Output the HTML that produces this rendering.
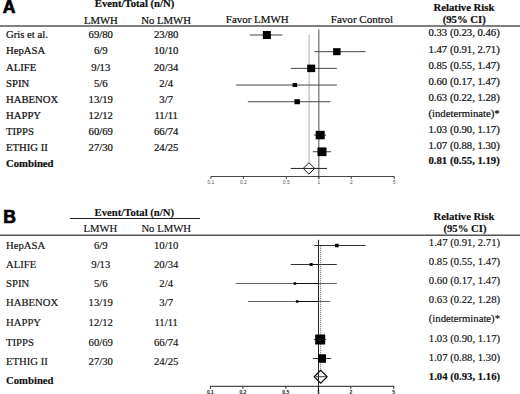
<!DOCTYPE html>
<html><head><meta charset="utf-8"><style>
html,body{margin:0;padding:0;background:#fff;}
body{width:520px;height:394px;overflow:hidden;}
svg{display:block;}
</style></head><body>
<svg width="520" height="394" viewBox="0 0 520 394">
<rect width="520" height="394" fill="#fff"/>
<text x="2.70" y="12.80" font-family="Liberation Sans" font-size="17.6" font-weight="bold" text-anchor="start" fill="#000" stroke="#000" stroke-width="0.7" >A</text>
<text x="94.80" y="7.30" font-family="Liberation Serif" font-size="10.7" font-weight="bold" text-anchor="start" fill="#111" stroke="#111" stroke-width="0.22" >Event/Total (n/N)</text>
<text x="100.80" y="23.50" font-family="Liberation Serif" font-size="10.7" font-weight="normal" text-anchor="middle" fill="#111" stroke="#111" stroke-width="0.22" >LMWH</text>
<text x="166.10" y="23.50" font-family="Liberation Serif" font-size="10.7" font-weight="normal" text-anchor="middle" fill="#111" stroke="#111" stroke-width="0.22" >No LMWH</text>
<text x="225.80" y="23.10" font-family="Liberation Serif" font-size="10.95" font-weight="normal" text-anchor="start" fill="#111" stroke="#111" stroke-width="0.22" >Favor LMWH</text>
<text x="330.80" y="23.10" font-family="Liberation Serif" font-size="11.05" font-weight="normal" text-anchor="start" fill="#111" stroke="#111" stroke-width="0.22" >Favor Control</text>
<text x="464.00" y="11.00" font-family="Liberation Serif" font-size="10.7" font-weight="bold" text-anchor="middle" fill="#111" stroke="#111" stroke-width="0.22" >Relative Risk</text>
<text x="464.20" y="22.80" font-family="Liberation Serif" font-size="10.7" font-weight="bold" text-anchor="middle" fill="#111" stroke="#111" stroke-width="0.22" >(95% CI)</text>
<line x1="0.00" y1="26.00" x2="520.00" y2="26.00" stroke="#555" stroke-width="1.5" />
<text x="6.00" y="38.00" font-family="Liberation Serif" font-size="10.7" font-weight="normal" text-anchor="start" fill="#111" stroke="#111" stroke-width="0.22" >Gris et al.</text>
<text x="100.80" y="38.00" font-family="Liberation Serif" font-size="10.7" font-weight="normal" text-anchor="middle" fill="#111" stroke="#111" stroke-width="0.22" >69/80</text>
<text x="166.20" y="38.00" font-family="Liberation Serif" font-size="10.7" font-weight="normal" text-anchor="middle" fill="#111" stroke="#111" stroke-width="0.22" >23/80</text>
<text x="428.50" y="36.30" font-family="Liberation Serif" font-size="10.7" font-weight="normal" text-anchor="start" fill="#111" stroke="#111" stroke-width="0.22" >0.33 (0.23, 0.46)</text>
<text x="6.00" y="54.30" font-family="Liberation Serif" font-size="10.7" font-weight="normal" text-anchor="start" fill="#111" stroke="#111" stroke-width="0.22" >HepASA</text>
<text x="100.80" y="54.30" font-family="Liberation Serif" font-size="10.7" font-weight="normal" text-anchor="middle" fill="#111" stroke="#111" stroke-width="0.22" >6/9</text>
<text x="166.20" y="54.30" font-family="Liberation Serif" font-size="10.7" font-weight="normal" text-anchor="middle" fill="#111" stroke="#111" stroke-width="0.22" >10/10</text>
<text x="428.50" y="52.70" font-family="Liberation Serif" font-size="10.7" font-weight="normal" text-anchor="start" fill="#111" stroke="#111" stroke-width="0.22" >1.47 (0.91, 2.71)</text>
<text x="6.00" y="70.60" font-family="Liberation Serif" font-size="10.7" font-weight="normal" text-anchor="start" fill="#111" stroke="#111" stroke-width="0.22" >ALIFE</text>
<text x="100.80" y="70.60" font-family="Liberation Serif" font-size="10.7" font-weight="normal" text-anchor="middle" fill="#111" stroke="#111" stroke-width="0.22" >9/13</text>
<text x="166.20" y="70.60" font-family="Liberation Serif" font-size="10.7" font-weight="normal" text-anchor="middle" fill="#111" stroke="#111" stroke-width="0.22" >20/34</text>
<text x="428.50" y="68.80" font-family="Liberation Serif" font-size="10.7" font-weight="normal" text-anchor="start" fill="#111" stroke="#111" stroke-width="0.22" >0.85 (0.55, 1.47)</text>
<text x="6.00" y="86.70" font-family="Liberation Serif" font-size="10.7" font-weight="normal" text-anchor="start" fill="#111" stroke="#111" stroke-width="0.22" >SPIN</text>
<text x="100.80" y="86.70" font-family="Liberation Serif" font-size="10.7" font-weight="normal" text-anchor="middle" fill="#111" stroke="#111" stroke-width="0.22" >5/6</text>
<text x="166.20" y="86.70" font-family="Liberation Serif" font-size="10.7" font-weight="normal" text-anchor="middle" fill="#111" stroke="#111" stroke-width="0.22" >2/4</text>
<text x="428.50" y="84.60" font-family="Liberation Serif" font-size="10.7" font-weight="normal" text-anchor="start" fill="#111" stroke="#111" stroke-width="0.22" >0.60 (0.17, 1.47)</text>
<text x="6.00" y="102.50" font-family="Liberation Serif" font-size="10.7" font-weight="normal" text-anchor="start" fill="#111" stroke="#111" stroke-width="0.22" >HABENOX</text>
<text x="100.80" y="102.50" font-family="Liberation Serif" font-size="10.7" font-weight="normal" text-anchor="middle" fill="#111" stroke="#111" stroke-width="0.22" >13/19</text>
<text x="166.20" y="102.50" font-family="Liberation Serif" font-size="10.7" font-weight="normal" text-anchor="middle" fill="#111" stroke="#111" stroke-width="0.22" >3/7</text>
<text x="428.50" y="101.20" font-family="Liberation Serif" font-size="10.7" font-weight="normal" text-anchor="start" fill="#111" stroke="#111" stroke-width="0.22" >0.63 (0.22, 1.28)</text>
<text x="6.00" y="118.80" font-family="Liberation Serif" font-size="10.7" font-weight="normal" text-anchor="start" fill="#111" stroke="#111" stroke-width="0.22" >HAPPY</text>
<text x="100.80" y="118.80" font-family="Liberation Serif" font-size="10.7" font-weight="normal" text-anchor="middle" fill="#111" stroke="#111" stroke-width="0.22" >12/12</text>
<text x="166.20" y="118.80" font-family="Liberation Serif" font-size="10.7" font-weight="normal" text-anchor="middle" fill="#111" stroke="#111" stroke-width="0.22" >11/11</text>
<text x="428.50" y="117.00" font-family="Liberation Serif" font-size="10.7" font-weight="normal" text-anchor="start" fill="#111" stroke="#111" stroke-width="0.22" >(indeterminate)*</text>
<text x="6.00" y="135.00" font-family="Liberation Serif" font-size="10.7" font-weight="normal" text-anchor="start" fill="#111" stroke="#111" stroke-width="0.22" >TIPPS</text>
<text x="100.80" y="135.00" font-family="Liberation Serif" font-size="10.7" font-weight="normal" text-anchor="middle" fill="#111" stroke="#111" stroke-width="0.22" >60/69</text>
<text x="166.20" y="135.00" font-family="Liberation Serif" font-size="10.7" font-weight="normal" text-anchor="middle" fill="#111" stroke="#111" stroke-width="0.22" >66/74</text>
<text x="428.50" y="132.70" font-family="Liberation Serif" font-size="10.7" font-weight="normal" text-anchor="start" fill="#111" stroke="#111" stroke-width="0.22" >1.03 (0.90, 1.17)</text>
<text x="6.00" y="151.40" font-family="Liberation Serif" font-size="10.7" font-weight="normal" text-anchor="start" fill="#111" stroke="#111" stroke-width="0.22" >ETHIG II</text>
<text x="100.80" y="151.40" font-family="Liberation Serif" font-size="10.7" font-weight="normal" text-anchor="middle" fill="#111" stroke="#111" stroke-width="0.22" >27/30</text>
<text x="166.20" y="151.40" font-family="Liberation Serif" font-size="10.7" font-weight="normal" text-anchor="middle" fill="#111" stroke="#111" stroke-width="0.22" >24/25</text>
<text x="428.50" y="148.60" font-family="Liberation Serif" font-size="10.7" font-weight="normal" text-anchor="start" fill="#111" stroke="#111" stroke-width="0.22" >1.07 (0.88, 1.30)</text>
<text x="6.00" y="167.10" font-family="Liberation Serif" font-size="10.7" font-weight="bold" text-anchor="start" fill="#111" stroke="#111" stroke-width="0.22" >Combined</text>
<text x="428.50" y="164.40" font-family="Liberation Serif" font-size="10.7" font-weight="bold" text-anchor="start" fill="#111" stroke="#111" stroke-width="0.22" >0.81 (0.55, 1.19)</text>
<line x1="309.13" y1="35.00" x2="309.13" y2="162.50" stroke="#bbb" stroke-width="1.2" />
<line x1="318.80" y1="29.60" x2="318.80" y2="179.00" stroke="#777" stroke-width="1.3" />
<line x1="249.93" y1="35.00" x2="282.41" y2="35.00" stroke="#444" stroke-width="1" />
<rect x="262.85" y="31.00" width="8.00" height="8.00" fill="#000"/>
<line x1="314.38" y1="51.68" x2="365.52" y2="51.68" stroke="#444" stroke-width="1" />
<rect x="333.10" y="48.18" width="7.50" height="7.00" fill="#000"/>
<line x1="290.79" y1="68.36" x2="336.85" y2="68.36" stroke="#444" stroke-width="1" />
<rect x="307.18" y="64.61" width="8.00" height="7.50" fill="#000"/>
<line x1="235.77" y1="85.04" x2="336.85" y2="85.04" stroke="#444" stroke-width="1" />
<rect x="292.61" y="83.04" width="4.50" height="4.00" fill="#000"/>
<line x1="247.85" y1="101.72" x2="330.37" y2="101.72" stroke="#444" stroke-width="1" />
<rect x="294.40" y="99.22" width="5.50" height="5.00" fill="#000"/>
<line x1="313.86" y1="135.08" x2="326.16" y2="135.08" stroke="#444" stroke-width="1" />
<rect x="315.69" y="130.83" width="9.00" height="8.50" fill="#000"/>
<line x1="312.81" y1="151.76" x2="331.09" y2="151.76" stroke="#444" stroke-width="1" />
<rect x="317.47" y="147.41" width="9.00" height="8.70" fill="#000"/>
<path d="M303.23 168.44 L308.93 162.74 L314.63 168.44 L308.93 174.14 Z" fill="#fff" stroke="#111" stroke-width="1"/>
<line x1="290.79" y1="168.44" x2="326.95" y2="168.44" stroke="#222" stroke-width="1" />
<line x1="210.90" y1="176.50" x2="394.22" y2="176.50" stroke="#444" stroke-width="1" />
<line x1="210.90" y1="176.50" x2="210.90" y2="179.00" stroke="#444" stroke-width="1" />
<text x="210.90" y="183.80" font-family="Liberation Sans" font-size="5" font-weight="normal" text-anchor="middle" fill="#555"  >0.1</text>
<line x1="243.38" y1="176.50" x2="243.38" y2="179.00" stroke="#444" stroke-width="1" />
<text x="243.38" y="183.80" font-family="Liberation Sans" font-size="5" font-weight="normal" text-anchor="middle" fill="#555"  >0.2</text>
<line x1="286.32" y1="176.50" x2="286.32" y2="179.00" stroke="#444" stroke-width="1" />
<text x="286.32" y="183.80" font-family="Liberation Sans" font-size="5" font-weight="normal" text-anchor="middle" fill="#555"  >0.5</text>
<line x1="318.80" y1="176.50" x2="318.80" y2="179.00" stroke="#444" stroke-width="1" />
<text x="318.80" y="183.80" font-family="Liberation Sans" font-size="5" font-weight="normal" text-anchor="middle" fill="#555"  >1</text>
<line x1="351.28" y1="176.50" x2="351.28" y2="179.00" stroke="#444" stroke-width="1" />
<text x="351.28" y="183.80" font-family="Liberation Sans" font-size="5" font-weight="normal" text-anchor="middle" fill="#555"  >2</text>
<line x1="394.22" y1="176.50" x2="394.22" y2="179.00" stroke="#444" stroke-width="1" />
<text x="394.22" y="183.80" font-family="Liberation Sans" font-size="5" font-weight="normal" text-anchor="middle" fill="#555"  >5</text>
<text x="3.20" y="222.50" font-family="Liberation Sans" font-size="17.6" font-weight="bold" text-anchor="start" fill="#000" stroke="#000" stroke-width="0.7" >B</text>
<text x="94.60" y="215.60" font-family="Liberation Serif" font-size="10.7" font-weight="bold" text-anchor="start" fill="#111" stroke="#111" stroke-width="0.16" >Event/Total (n/N)</text>
<line x1="70.00" y1="218.50" x2="200.00" y2="218.50" stroke="#222" stroke-width="1.2" />
<text x="100.30" y="232.20" font-family="Liberation Serif" font-size="10.7" font-weight="normal" text-anchor="middle" fill="#111" stroke="#111" stroke-width="0.16" >LMWH</text>
<text x="166.20" y="232.20" font-family="Liberation Serif" font-size="10.7" font-weight="normal" text-anchor="middle" fill="#111" stroke="#111" stroke-width="0.16" >No LMWH</text>
<text x="464.00" y="220.00" font-family="Liberation Serif" font-size="10.7" font-weight="bold" text-anchor="middle" fill="#111" stroke="#111" stroke-width="0.16" >Relative Risk</text>
<text x="465.00" y="232.20" font-family="Liberation Serif" font-size="10.7" font-weight="bold" text-anchor="middle" fill="#111" stroke="#111" stroke-width="0.16" >(95% CI)</text>
<line x1="0.00" y1="235.30" x2="520.00" y2="235.30" stroke="#555" stroke-width="1.5" />
<text x="6.00" y="249.00" font-family="Liberation Serif" font-size="10.7" font-weight="normal" text-anchor="start" fill="#111" stroke="#111" stroke-width="0.16" >HepASA</text>
<text x="100.80" y="249.00" font-family="Liberation Serif" font-size="10.7" font-weight="normal" text-anchor="middle" fill="#111" stroke="#111" stroke-width="0.16" >6/9</text>
<text x="166.20" y="249.00" font-family="Liberation Serif" font-size="10.7" font-weight="normal" text-anchor="middle" fill="#111" stroke="#111" stroke-width="0.16" >10/10</text>
<text x="428.80" y="245.80" font-family="Liberation Serif" font-size="10.7" font-weight="normal" text-anchor="start" fill="#111" stroke="#111" stroke-width="0.16" >1.47 (0.91, 2.71)</text>
<text x="6.00" y="268.00" font-family="Liberation Serif" font-size="10.7" font-weight="normal" text-anchor="start" fill="#111" stroke="#111" stroke-width="0.16" >ALIFE</text>
<text x="100.80" y="268.00" font-family="Liberation Serif" font-size="10.7" font-weight="normal" text-anchor="middle" fill="#111" stroke="#111" stroke-width="0.16" >9/13</text>
<text x="166.20" y="268.00" font-family="Liberation Serif" font-size="10.7" font-weight="normal" text-anchor="middle" fill="#111" stroke="#111" stroke-width="0.16" >20/34</text>
<text x="428.80" y="264.80" font-family="Liberation Serif" font-size="10.7" font-weight="normal" text-anchor="start" fill="#111" stroke="#111" stroke-width="0.16" >0.85 (0.55, 1.47)</text>
<text x="6.00" y="287.20" font-family="Liberation Serif" font-size="10.7" font-weight="normal" text-anchor="start" fill="#111" stroke="#111" stroke-width="0.16" >SPIN</text>
<text x="100.80" y="287.20" font-family="Liberation Serif" font-size="10.7" font-weight="normal" text-anchor="middle" fill="#111" stroke="#111" stroke-width="0.16" >5/6</text>
<text x="166.20" y="287.20" font-family="Liberation Serif" font-size="10.7" font-weight="normal" text-anchor="middle" fill="#111" stroke="#111" stroke-width="0.16" >2/4</text>
<text x="428.80" y="284.20" font-family="Liberation Serif" font-size="10.7" font-weight="normal" text-anchor="start" fill="#111" stroke="#111" stroke-width="0.16" >0.60 (0.17, 1.47)</text>
<text x="6.00" y="306.40" font-family="Liberation Serif" font-size="10.7" font-weight="normal" text-anchor="start" fill="#111" stroke="#111" stroke-width="0.16" >HABENOX</text>
<text x="100.80" y="306.40" font-family="Liberation Serif" font-size="10.7" font-weight="normal" text-anchor="middle" fill="#111" stroke="#111" stroke-width="0.16" >13/19</text>
<text x="166.20" y="306.40" font-family="Liberation Serif" font-size="10.7" font-weight="normal" text-anchor="middle" fill="#111" stroke="#111" stroke-width="0.16" >3/7</text>
<text x="428.80" y="303.30" font-family="Liberation Serif" font-size="10.7" font-weight="normal" text-anchor="start" fill="#111" stroke="#111" stroke-width="0.16" >0.63 (0.22, 1.28)</text>
<text x="6.00" y="325.70" font-family="Liberation Serif" font-size="10.7" font-weight="normal" text-anchor="start" fill="#111" stroke="#111" stroke-width="0.16" >HAPPY</text>
<text x="100.80" y="325.70" font-family="Liberation Serif" font-size="10.7" font-weight="normal" text-anchor="middle" fill="#111" stroke="#111" stroke-width="0.16" >12/12</text>
<text x="166.20" y="325.70" font-family="Liberation Serif" font-size="10.7" font-weight="normal" text-anchor="middle" fill="#111" stroke="#111" stroke-width="0.16" >11/11</text>
<text x="428.80" y="322.20" font-family="Liberation Serif" font-size="10.7" font-weight="normal" text-anchor="start" fill="#111" stroke="#111" stroke-width="0.16" >(indeterminate)*</text>
<text x="6.00" y="345.50" font-family="Liberation Serif" font-size="10.7" font-weight="normal" text-anchor="start" fill="#111" stroke="#111" stroke-width="0.16" >TIPPS</text>
<text x="100.80" y="345.50" font-family="Liberation Serif" font-size="10.7" font-weight="normal" text-anchor="middle" fill="#111" stroke="#111" stroke-width="0.16" >60/69</text>
<text x="166.20" y="345.50" font-family="Liberation Serif" font-size="10.7" font-weight="normal" text-anchor="middle" fill="#111" stroke="#111" stroke-width="0.16" >66/74</text>
<text x="428.80" y="342.00" font-family="Liberation Serif" font-size="10.7" font-weight="normal" text-anchor="start" fill="#111" stroke="#111" stroke-width="0.16" >1.03 (0.90, 1.17)</text>
<text x="6.00" y="364.50" font-family="Liberation Serif" font-size="10.7" font-weight="normal" text-anchor="start" fill="#111" stroke="#111" stroke-width="0.16" >ETHIG II</text>
<text x="100.80" y="364.50" font-family="Liberation Serif" font-size="10.7" font-weight="normal" text-anchor="middle" fill="#111" stroke="#111" stroke-width="0.16" >27/30</text>
<text x="166.20" y="364.50" font-family="Liberation Serif" font-size="10.7" font-weight="normal" text-anchor="middle" fill="#111" stroke="#111" stroke-width="0.16" >24/25</text>
<text x="428.80" y="361.20" font-family="Liberation Serif" font-size="10.7" font-weight="normal" text-anchor="start" fill="#111" stroke="#111" stroke-width="0.16" >1.07 (0.88, 1.30)</text>
<text x="6.00" y="384.00" font-family="Liberation Serif" font-size="10.7" font-weight="bold" text-anchor="start" fill="#111" stroke="#111" stroke-width="0.16" >Combined</text>
<text x="428.80" y="380.40" font-family="Liberation Serif" font-size="10.7" font-weight="bold" text-anchor="start" fill="#111" stroke="#111" stroke-width="0.16" >1.04 (0.93, 1.16)</text>
<line x1="320.64" y1="245.80" x2="320.64" y2="370.00" stroke="#666" stroke-width="1" stroke-dasharray="1 1"/>
<line x1="318.50" y1="239.80" x2="318.50" y2="393.00" stroke="#222" stroke-width="1" />
<line x1="314.38" y1="245.50" x2="365.52" y2="245.50" stroke="#333" stroke-width="1" />
<rect x="335.10" y="243.75" width="3.50" height="3.50" fill="#000"/>
<line x1="290.79" y1="264.50" x2="336.85" y2="264.50" stroke="#333" stroke-width="1" />
<line x1="311.18" y1="264.50" x2="318.80" y2="264.50" stroke="#111" stroke-width="1" />
<rect x="309.68" y="263.00" width="3.00" height="3.00" fill="#000"/>
<line x1="235.77" y1="283.50" x2="336.85" y2="283.50" stroke="#666" stroke-width="1" />
<line x1="294.86" y1="283.50" x2="318.80" y2="283.50" stroke="#111" stroke-width="1" />
<rect x="293.61" y="282.25" width="2.50" height="2.50" fill="#000"/>
<line x1="247.85" y1="301.50" x2="330.37" y2="301.50" stroke="#666" stroke-width="1" />
<line x1="297.15" y1="301.50" x2="318.80" y2="301.50" stroke="#111" stroke-width="1" />
<rect x="295.90" y="300.25" width="2.50" height="2.50" fill="#000"/>
<line x1="313.86" y1="339.50" x2="326.16" y2="339.50" stroke="#333" stroke-width="1" />
<rect x="315.19" y="334.50" width="10.00" height="10.00" fill="#000"/>
<line x1="312.81" y1="358.50" x2="331.09" y2="358.50" stroke="#333" stroke-width="1" />
<rect x="317.97" y="354.25" width="8.00" height="8.50" fill="#000"/>
<path d="M314.14 376.74 L320.64 370.24 L327.14 376.74 L320.64 383.24 Z" fill="#fff" stroke="#000" stroke-width="1.1"/>
<line x1="315.40" y1="376.74" x2="325.76" y2="376.74" stroke="#333" stroke-width="1" />
<line x1="318.50" y1="369.74" x2="318.50" y2="383.74" stroke="#222" stroke-width="1" />
<line x1="209.90" y1="386.30" x2="394.22" y2="386.30" stroke="#222" stroke-width="1" />
<line x1="210.40" y1="386.30" x2="210.40" y2="388.80" stroke="#222" stroke-width="1" />
<text x="210.40" y="394.00" font-family="Liberation Sans" font-size="5" font-weight="bold" text-anchor="middle" fill="#111"  >0.1</text>
<line x1="242.88" y1="386.30" x2="242.88" y2="388.80" stroke="#222" stroke-width="1" />
<text x="242.88" y="394.00" font-family="Liberation Sans" font-size="5" font-weight="bold" text-anchor="middle" fill="#111"  >0.2</text>
<line x1="285.82" y1="386.30" x2="285.82" y2="388.80" stroke="#222" stroke-width="1" />
<text x="285.82" y="394.00" font-family="Liberation Sans" font-size="5" font-weight="bold" text-anchor="middle" fill="#111"  >0.5</text>
<line x1="318.30" y1="386.30" x2="318.30" y2="388.80" stroke="#222" stroke-width="1" />
<text x="318.30" y="394.00" font-family="Liberation Sans" font-size="5" font-weight="bold" text-anchor="middle" fill="#111"  >1</text>
<line x1="350.78" y1="386.30" x2="350.78" y2="388.80" stroke="#222" stroke-width="1" />
<text x="350.78" y="394.00" font-family="Liberation Sans" font-size="5" font-weight="bold" text-anchor="middle" fill="#111"  >2</text>
<line x1="393.72" y1="386.30" x2="393.72" y2="388.80" stroke="#222" stroke-width="1" />
<text x="393.72" y="394.00" font-family="Liberation Sans" font-size="5" font-weight="bold" text-anchor="middle" fill="#111"  >5</text>
</svg>
</body></html>
